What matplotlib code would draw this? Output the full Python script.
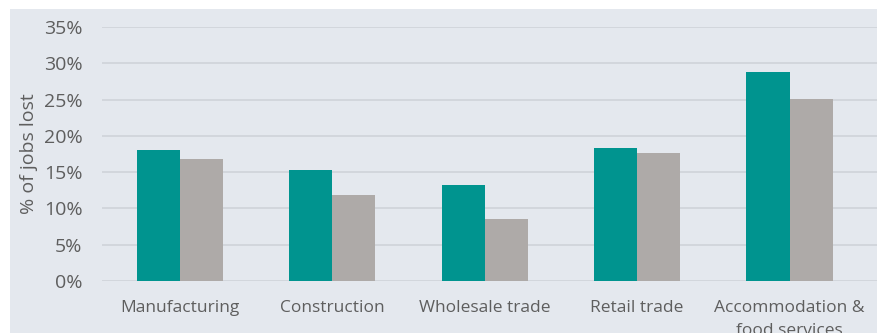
import matplotlib
matplotlib.use("Agg")
import matplotlib.pyplot as plt
import numpy as np
from matplotlib.patches import Rectangle
from matplotlib.ticker import PercentFormatter

categories = ["Manufacturing", "Construction", "Wholesale trade", "Retail trade",
              "Accommodation &\nfood services"]
series_a = [18.0, 15.3, 13.2, 18.3, 28.8]
series_b = [16.8, 11.8, 8.6, 17.6, 25.1]
yticks = [0, 5, 10, 15, 20, 25, 30, 35]

plt.rcParams["font.family"] = ["Open Sans", "DejaVu Sans"]

fig = plt.figure(figsize=(8.78, 3.33), dpi=100)
fig.patch.set_facecolor("white")
fig.patches.append(Rectangle((10 / 878, 0), 1, (333 - 9) / 333, transform=fig.transFigure,
                             facecolor="#e4e8ee", edgecolor="none", zorder=-5))

ax = fig.add_axes([102 / 878, (333 - 281) / 333, 1 - 102 / 878, (281 - 27) / 333])
ax.set_facecolor("none")
ax.set_zorder(1)

x = np.arange(len(categories))
w = 0.283
ax.bar(x - w / 2, series_a, width=w, color="#00948f", zorder=3)
ax.bar(x + w / 2, series_b, width=w, color="#aeaaa8", zorder=3)

ax.set_xlim(-0.51, 4.58)
ax.set_ylim(0, 35)
ax.set_yticks(yticks)
ax.yaxis.set_major_formatter(PercentFormatter(decimals=0))
ax.grid(axis="y", color="#cfd3d9", linewidth=1.2, zorder=1)
ax.set_axisbelow(True)
for s in ax.spines.values():
    s.set_visible(False)
ax.tick_params(axis="both", length=0, colors="#5e5e5e")
ax.tick_params(axis="y", labelsize=14, pad=14)
ax.tick_params(axis="x", labelsize=12.5, pad=14)
ax.set_xticks(x)
ax.set_xticklabels(categories, va="top", linespacing=1.55)
ax.set_ylabel("% of jobs lost", fontsize=14, color="#5e5e5e", labelpad=4)

fig.savefig("out.png", dpi=100)
